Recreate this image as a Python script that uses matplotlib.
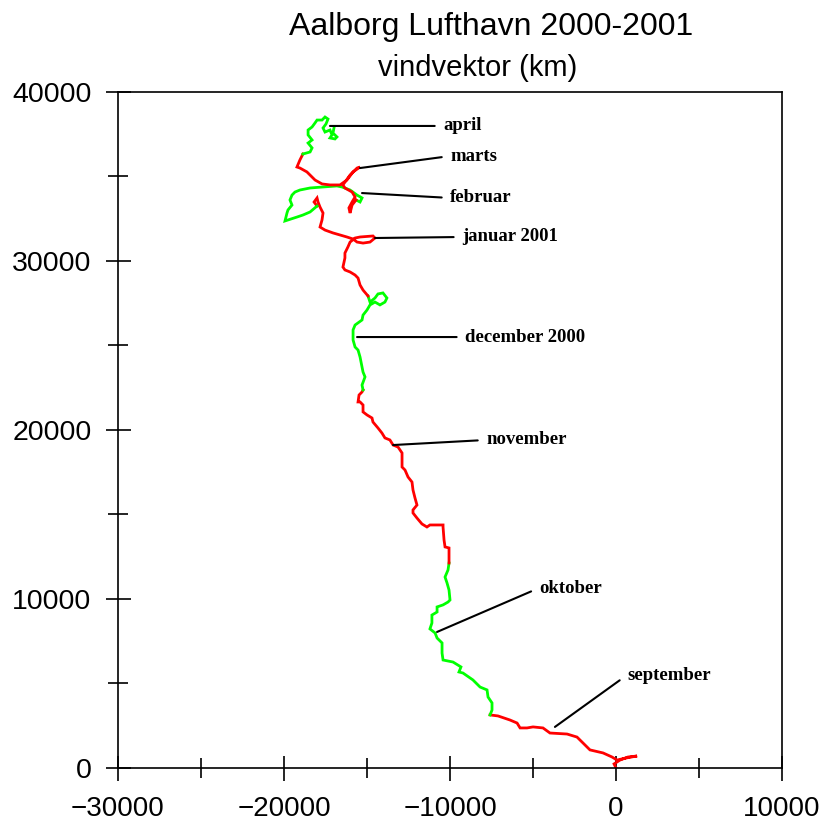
import matplotlib
matplotlib.use("Agg")
import matplotlib.pyplot as plt
from matplotlib.ticker import MultipleLocator

# wind vector path (km), one segment per month
sep_x = [0, -120, 240, 720, 1270, 600, 60, -240, -780, -1570, -1990, -2350, -2950, -3980,
         -4400, -5000, -5360, -5780, -5960, -6390, -7110, -7590]
sep_y = [0, 240, 470, 650, 710, 590, 470, 650, 890, 1070, 1480, 1830, 2010, 2070,
         2370, 2430, 2370, 2370, 2660, 2840, 3080, 3140]

okt_x = [-7590, -7470, -7470, -7710, -7770, -8190, -8620, -9220, -9460, -9340, -9820, -10420,
         -10480, -10480, -10780, -10900, -11210, -11090, -11090, -10780, -10780, -10420, -10120,
         -10000, -10060, -10180, -10300, -10120, -10060]
okt_y = [3140, 3430, 3850, 4200, 4620, 4790, 5210, 5620, 5680, 5980, 6270, 6390,
         6800, 7400, 7690, 7990, 8230, 8580, 9050, 9230, 9530, 9650, 9820,
         9940, 10530, 10950, 11300, 11720, 12130]

nov_x = [-10060, -10060, -10300, -10360, -10420, -10420, -11210, -11390, -11690, -11990, -12230,
         -12230, -11990, -12110, -12230, -12290, -12530, -12710, -12890, -12890, -12890, -13130,
         -13430, -13620, -13920, -14100, -14340, -14640, -14700, -15000, -15240, -15240, -15420,
         -15540, -15480, -15300, -15240]
nov_y = [12130, 13020, 13080, 13490, 14260, 14380, 14380, 14260, 14440, 14790, 15090,
         15270, 15560, 15980, 16450, 16920, 17220, 17630, 17810, 18220, 18640, 18990,
         19110, 19410, 19530, 19820, 20120, 20470, 20710, 20890, 21070, 21480, 21660,
         21660, 22070, 22250, 22370]

dec_x = [-15240, -15300, -15120, -15240, -15420, -15540, -15720, -15840, -15840, -15720, -15300,
         -15240, -15000, -14820, -14520, -14220, -13920, -13800, -14040, -14340, -14520, -14820,
         -14940]
dec_y = [22370, 22660, 23140, 23430, 24320, 24730, 24910, 25330, 25920, 26210, 26510,
         26800, 27100, 27400, 27570, 27400, 27570, 27810, 28110, 28050, 27810, 27570,
         27930]

jan_x = [-14940, -15240, -15420, -15540, -15720, -16020, -16330, -16450, -16330, -16330, -16150,
         -16020, -15720, -15420, -14640, -14520, -14820, -15240, -15600, -15840, -16210, -16630,
         -17050, -17530, -17830, -17710, -17650, -17830, -17950, -18010, -18190, -18010]
jan_y = [27930, 28280, 28580, 28990, 29170, 29350, 29470, 29640, 30180, 30470, 30830,
         31120, 31360, 31420, 31480, 31360, 31120, 31060, 31120, 31300, 31420, 31540,
         31660, 31830, 32010, 32430, 32840, 33190, 33490, 33730, 33490, 33250]

feb_x = [-18010, -18430, -18860, -19220, -19940, -19820, -19760, -19520, -19640, -19520, -19340,
         -19040, -18430, -17650, -16810, -16510, -16020, -15600, -15300, -15420, -15660]
feb_y = [33250, 32900, 32720, 32600, 32370, 32840, 33020, 33310, 33610, 33900, 34080,
         34200, 34320, 34380, 34440, 34380, 34200, 33900, 33730, 33490, 33610]

mar_x = [-15660, -15900, -16020, -16090, -15900, -15720, -15900, -16330, -16450, -16020, -15600,
         -15420, -15840, -16210, -16630, -17230, -17710, -18130, -18620, -19040, -19220, -19040,
         -18860]
mar_y = [33610, 33310, 32840, 33140, 33490, 33790, 34080, 34320, 34500, 35090, 35500,
         35560, 35270, 34790, 34500, 34500, 34560, 34790, 35270, 35500, 35560, 35980,
         36330]

apr_x = [-18860, -18430, -18310, -18550, -18310, -18550, -18550, -18310, -18130, -18010, -17710,
         -17530, -17350, -17470, -17650, -17530, -17230, -17110, -17230, -16930, -16810, -17050,
         -16990]
apr_y = [36330, 36450, 36690, 36980, 37160, 37460, 37750, 37930, 38170, 38340, 38340,
         38520, 38400, 38110, 37870, 37630, 37750, 37460, 37280, 37220, 37340, 37570,
         37870]

months = [
    (sep_x, sep_y), (okt_x, okt_y), (nov_x, nov_y), (dec_x, dec_y),
    (jan_x, jan_y), (feb_x, feb_y), (mar_x, mar_y), (apr_x, apr_y),
]
month_colors = ["#ff0000", "#00ff00"]

# labels: text, point on the path, text anchor
labels = ["april", "marts", "februar", "januar 2001", "december 2000",
          "november", "oktober", "september"]
label_points = [(-17230, 37990), (-15420, 35500), (-15300, 34020), (-14520, 31360),
                (-15600, 25500), (-13430, 19110), (-10780, 8050), (-3680, 2430)]
label_text_pos = [(-10420, 37990), (-10000, 36210), (-10000, 33730), (-9280, 31420),
                  (-9100, 25500), (-7830, 19410), (-4640, 10650), (660, 5500)]

fig = plt.figure(figsize=(8.2, 8.25), dpi=100)
ax = fig.add_axes([0.1439, 0.0691, 0.8098, 0.8194])

for i, (mx, my) in enumerate(months):
    ax.plot(mx, my, color=month_colors[i % 2], linewidth=2.0, solid_joinstyle="miter")

for text, pt, tpos in zip(labels, label_points, label_text_pos):
    ax.annotate(text, xy=pt, xytext=tpos, ha="left", va="center",
                fontsize=13.5, fontweight="bold", family="Liberation Serif",
                arrowprops=dict(arrowstyle="-", color="black", linewidth=1.5,
                                shrinkA=4, shrinkB=0, relpos=(0, 0.5)))

ax.set_xlim(-30000, 10000)
ax.set_ylim(0, 40000)
ax.xaxis.set_major_locator(MultipleLocator(10000))
ax.xaxis.set_minor_locator(MultipleLocator(5000))
ax.yaxis.set_major_locator(MultipleLocator(10000))
ax.yaxis.set_minor_locator(MultipleLocator(5000))
ax.tick_params(which="both", direction="inout", width=1.2, colors="black",
               labelfontfamily="Liberation Sans")
ax.tick_params(which="major", length=18, pad=10)
ax.tick_params(which="minor", length=14)
ax.tick_params(axis="y", labelsize=20.5)
ax.tick_params(axis="x", which="major", pad=11, labelsize=20)
for spine in ax.spines.values():
    spine.set_linewidth(1.2)

fig.text(0.599, 0.967, "Aalborg Lufthavn 2000-2001", ha="center", va="center",
         fontsize=23, family="Liberation Sans")
fig.text(0.582, 0.918, "vindvektor (km)", ha="center", va="center",
         fontsize=21, family="Liberation Sans")

fig.savefig("out.png", dpi=100)
